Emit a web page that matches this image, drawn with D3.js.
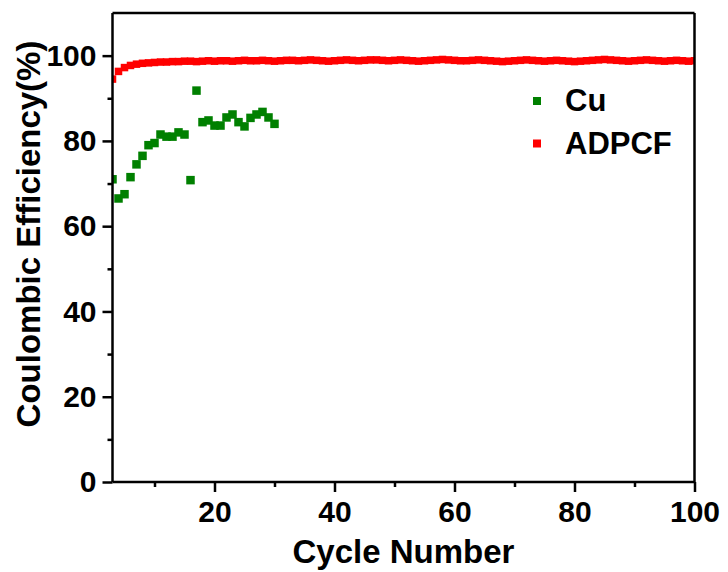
<!DOCTYPE html>
<html>
<head>
<meta charset="utf-8">
<script src="https://cdn.jsdelivr.net/npm/d3@7"></script>
<style>
  body { margin: 0; background: #fff; }
  text { font-family: "Liberation Sans", Arial, sans-serif; font-weight: bold; fill: #000; }
</style>
</head>
<body>
<div id="container"></div>
<script>
// cycle numbers start at 3 (left edge of the axis)
const cuCycles = d3.range(3, 31);
const cuValues = [71, 66.5, 67.5, 71.5, 74.5, 76.5, 79, 79.5, 81.5, 81,
  81, 82, 81.5, 70.8, 91.8, 84.4, 84.8, 83.6, 83.6, 85.5,
  86.2, 84.4, 83.4, 85.4, 86.2, 86.8, 85.5, 84.0];

const adpcfCycles = d3.range(3, 101);
const adpcfValues = [94.5, 96.3, 97.2, 97.7, 98.0, 98.2, 98.3, 98.4, 98.5, 98.5,
  98.6, 98.6, 98.7, 98.7, 98.6, 98.7, 98.8, 98.7, 98.8, 98.8,
  98.7, 98.8, 98.9, 98.8, 98.8, 98.9, 98.8, 98.7, 98.8, 98.9,
  98.9, 98.8, 98.9, 99.0, 98.9, 98.8, 98.7, 98.8, 98.9, 99.0,
  98.9, 98.8, 98.9, 99.0, 99.0, 98.9, 98.8, 98.9, 99.0, 98.9,
  98.8, 98.7, 98.8, 98.9, 99.0, 99.1, 99.0, 98.9, 98.8, 98.8,
  98.9, 99.0, 98.9, 98.8, 98.7, 98.6, 98.7, 98.8, 98.9, 99.0,
  98.9, 98.8, 98.7, 98.8, 98.9, 98.8, 98.7, 98.6, 98.7, 98.8,
  98.9, 99.0, 99.1, 99.0, 98.9, 98.8, 98.7, 98.8, 98.9, 99.0,
  98.9, 98.8, 98.7, 98.8, 98.9, 98.8, 98.7, 98.8];

const xTicks = [20, 40, 60, 80, 100];
const xMinor = [10, 30, 50, 70, 90];
const yTicks = [0, 20, 40, 60, 80, 100];
const yMinor = [10, 30, 50, 70, 90];

const seriesNames = ["Cu", "ADPCF"];
const seriesColors = ["#008000", "#ff0000"];

const W = 728, H = 572;
const margin = { top: 13, right: 33.5, bottom: 90, left: 112.5 };
const width = W - margin.left - margin.right;
const height = H - margin.top - margin.bottom;

const svg = d3.select("#container")
  .append("svg")
  .attr("width", W)
  .attr("height", H);

const g = svg.append("g")
  .attr("transform", `translate(${margin.left},${margin.top})`);

const x = d3.scaleLinear().domain([3, 100]).range([0, width]);
const y = d3.scaleLinear().domain([0, 110]).range([height, 0]);

g.append("clipPath").attr("id", "plotclip")
  .append("rect").attr("width", width).attr("height", height);

// points
const plot = g.append("g").attr("clip-path", "url(#plotclip)");

const red = adpcfCycles.map((c, i) => ({ c, v: adpcfValues[i] }));
const green = cuCycles.map((c, i) => ({ c, v: cuValues[i] }));

const rs = 7.5;
plot.selectAll(".adpcf")
  .data(red)
  .enter()
  .append("rect")
  .attr("x", d => x(d.c) - rs / 2)
  .attr("y", d => y(d.v) - rs / 2)
  .attr("width", rs)
  .attr("height", rs)
  .style("fill", seriesColors[1]);

const gs = 8.5;
plot.selectAll(".cu")
  .data(green)
  .enter()
  .append("rect")
  .attr("x", d => x(d.c) - gs / 2)
  .attr("y", d => y(d.v) - gs / 2)
  .attr("width", gs)
  .attr("height", gs)
  .style("fill", seriesColors[0]);

// axes
const lw = 2.5;
const xAxis = g.append("g")
  .attr("transform", `translate(0,${height})`)
  .call(d3.axisBottom(x).tickValues(xTicks).tickSize(10).tickPadding(9));
g.append("g")
  .attr("transform", `translate(0,${height})`)
  .call(d3.axisBottom(x).tickValues(xMinor).tickSize(5).tickFormat(""))
  .select(".domain").remove();

const yAxis = g.append("g")
  .call(d3.axisLeft(y).tickValues(yTicks).tickSize(10).tickPadding(6));
g.append("g")
  .call(d3.axisLeft(y).tickValues(yMinor).tickSize(5).tickFormat(""))
  .select(".domain").remove();

g.selectAll(".tick line").attr("stroke", "#000").attr("stroke-width", lw);
g.selectAll(".domain").attr("stroke", "#000").attr("stroke-width", lw);
xAxis.select(".domain").attr("d", `M0,0H${width}`);
yAxis.select(".domain").attr("d", `M0,0V${height}`);

g.selectAll(".tick text")
  .style("font-family", "'Liberation Sans', Arial, sans-serif")
  .style("font-weight", "bold")
  .style("font-size", "30px")
  .attr("fill", "#000");

// frame top / right
g.append("line").attr("x1", 0).attr("x2", width).attr("y1", 0).attr("y2", 0)
  .attr("stroke", "#000").attr("stroke-width", lw);
g.append("line").attr("x1", width).attr("x2", width).attr("y1", 0).attr("y2", height)
  .attr("stroke", "#000").attr("stroke-width", lw);

// titles
svg.append("text")
  .attr("x", margin.left + width / 2)
  .attr("y", 563)
  .attr("text-anchor", "middle")
  .style("font-size", "33px")
  .text("Cycle Number");

svg.append("text")
  .attr("transform", `translate(40,234) rotate(-90)`)
  .attr("text-anchor", "middle")
  .style("font-size", "33px")
  .text("Coulombic Efficiency(%)");

// legend
const legend = svg.append("g").attr("transform", "translate(537,0)");
const legY = [101, 143.5];
seriesNames.forEach((name, i) => {
  legend.append("rect")
    .attr("x", -4).attr("y", legY[i] - 4)
    .attr("width", 8).attr("height", 8)
    .style("fill", seriesColors[i]);
  legend.append("text")
    .attr("x", 28)
    .attr("y", legY[i] + 10)
    .style("font-size", "31px")
    .text(name);
});
</script>
</body>
</html>
